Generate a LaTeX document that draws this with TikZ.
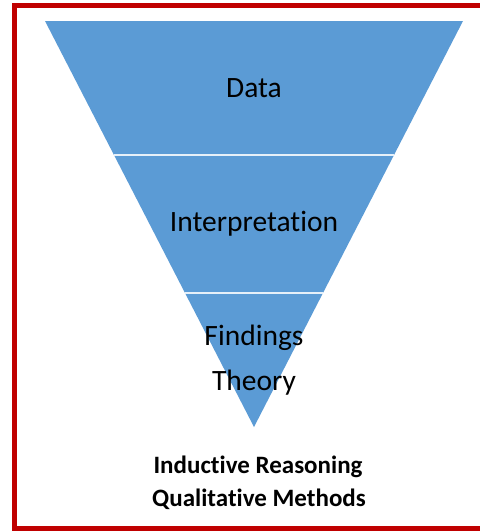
\documentclass[tikz,border=0pt]{standalone}
\usepackage{fontspec}
\setmainfont[Ligatures={NoCommon}]{Carlito}
\definecolor{funnel}{HTML}{5B9BD5}
\definecolor{frame}{HTML}{C00000}
\begin{document}
\begin{tikzpicture}[x=1pt,y=-1pt,
  lbl/.style={anchor=base,inner sep=0pt,font=\fontsize{29.5}{29.5}\selectfont,text=black},
  blbl/.style={anchor=base,inner sep=0pt,font=\fontsize{25}{25}\selectfont\bfseries,text=black},
  divider/.style={draw=white!85!funnel,line width=1.5pt}]
\useasboundingbox (0,0) rectangle (480,531);
\fill[white] (0,0) rectangle (480,531);
\draw[frame,line width=5pt] (14.5,5.5) rectangle (490,528.5);
\coordinate (tl) at (45,21);
\coordinate (tr) at (463,21);
\coordinate (ap) at (254,427);
\fill[funnel] (tl) -- (tr) -- (ap) -- cycle;
\path (tl) -- (ap) coordinate[pos=0.3300] (l1);
\path (tr) -- (ap) coordinate[pos=0.3300] (r1);
\path (tl) -- (ap) coordinate[pos=0.6700] (l2);
\path (tr) -- (ap) coordinate[pos=0.6700] (r2);
\draw[divider] (l1) -- (r1);
\draw[divider] (l2) -- (r2);
\node[lbl] (data) at (254,97) {Data};
\node[lbl] (interp) at (254,231) {Interpretation};
\node[lbl] (find) at (254,345) {Findings};
\node[lbl] (theory) at (254,390) {Theory};
\node[blbl] (ind) at (258,473) {Inductive Reasoning};
\node[blbl] (qual) at (259,506) {Qualitative Methods};
\end{tikzpicture}
\end{document}
